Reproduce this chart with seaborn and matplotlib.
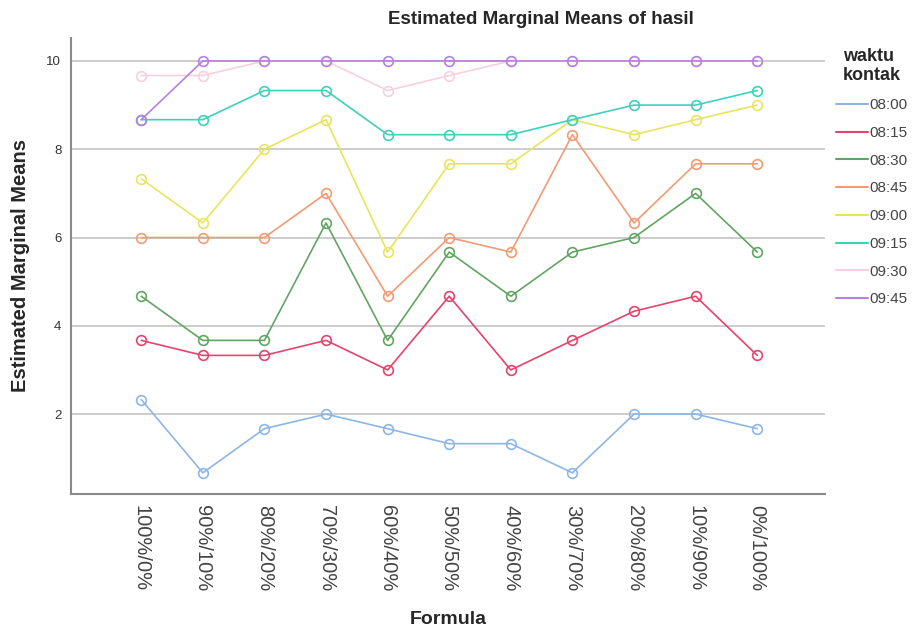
import matplotlib
matplotlib.use("Agg")
import matplotlib.pyplot as plt
from matplotlib.lines import Line2D
import seaborn as sns
import pandas as pd

formula = ["100%/0%", "90%/10%", "80%/20%", "70%/30%", "60%/40%", "50%/50%",
           "40%/60%", "30%/70%", "20%/80%", "10%/90%", "0%/100%"]
waktu = ["08:00", "08:15", "08:30", "08:45", "09:00", "09:15", "09:30", "09:45"]

v0800 = [2.33, 0.67, 1.67, 2.00, 1.67, 1.33, 1.33, 0.67, 2.00, 2.00, 1.67]
v0815 = [3.67, 3.33, 3.33, 3.67, 3.00, 4.67, 3.00, 3.67, 4.33, 4.67, 3.33]
v0830 = [4.67, 3.67, 3.67, 6.33, 3.67, 5.67, 4.67, 5.67, 6.00, 7.00, 5.67]
v0845 = [6.00, 6.00, 6.00, 7.00, 4.67, 6.00, 5.67, 8.33, 6.33, 7.67, 7.67]
v0900 = [7.33, 6.33, 8.00, 8.67, 5.67, 7.67, 7.67, 8.67, 8.33, 8.67, 9.00]
v0915 = [8.67, 8.67, 9.33, 9.33, 8.33, 8.33, 8.33, 8.67, 9.00, 9.00, 9.33]
v0930 = [9.67, 9.67, 10.0, 10.0, 9.33, 9.67, 10.0, 10.0, 10.0, 10.0, 10.0]
v0945 = [8.67, 10.0, 10.0, 10.0, 10.0, 10.0, 10.0, 10.0, 10.0, 10.0, 10.0]
series = [v0800, v0815, v0830, v0845, v0900, v0915, v0930, v0945]

colors = ["#8db6e6", "#e5446c", "#62a462", "#f29b74", "#e8e55c", "#3cd2bb",
          "#f6d0e0", "#b87fe6"]

rows = []
for w, vals in zip(waktu, series):
    for f, v in zip(formula, vals):
        rows.append({"Formula": f, "mean": v, "waktu": w})
df = pd.DataFrame(rows)

sns.set_style("white")
plt.rcParams["font.family"] = ["Liberation Sans", "DejaVu Sans"]

fig = plt.figure(figsize=(9.14, 6.41), dpi=100)
ax = fig.add_axes([71/914, 1 - 494/641, (825 - 71)/914, (494 - 38)/641])

sns.lineplot(data=df, x="Formula", y="mean", hue="waktu", hue_order=waktu,
             palette=colors, marker="o", markersize=7, linewidth=1.2,
             sort=False, ax=ax, legend=False)
for line in ax.lines:
    c = line.get_color()
    line.set_markerfacecolor("none")
    line.set_markeredgecolor(c)
    line.set_markeredgewidth(1.2)

ax.set_xlim(-1.14, 11.1)
ax.set_ylim(0.19, 10.52)
ax.set_yticks([2, 4, 6, 8, 10])
ax.yaxis.grid(True, color="#c8c8c8", linewidth=1.3)
ax.xaxis.grid(False)
ax.set_axisbelow(True)
for s in ["top", "right"]:
    ax.spines[s].set_visible(False)
for s in ["left", "bottom"]:
    ax.spines[s].set_color("#8a8a8a")
    ax.spines[s].set_linewidth(1.5)

ax.tick_params(axis="y", labelsize=9.5, colors="#333333", length=0, pad=7)
ax.tick_params(axis="x", labelsize=14.5, colors="#333333", length=0, pad=8)
for lab in ax.get_xticklabels():
    lab.set_rotation(-90)
    lab.set_va("top")
    lab.set_ha("center")
    lab.set_color("#444444")

ax.set_xlabel("Formula", fontsize=14, fontweight="bold", labelpad=14)
ax.set_ylabel("Estimated Marginal Means", fontsize=14.5, fontweight="bold",
              labelpad=12)

fig.text(541/914, 1 - 20/641, "Estimated Marginal Means of hasil",
         ha="center", va="center", fontsize=13.5, fontweight="bold")

handles = [Line2D([0], [0], color=c, lw=1.5) for c in colors]
leg = fig.legend(handles, waktu, loc="upper left",
                 bbox_to_anchor=(822/914, 1 - 34/641), frameon=False,
                 fontsize=11, handlelength=2.1, handletextpad=0.1,
                 labelspacing=0.9, title="waktu\nkontak",
                 title_fontproperties={"weight": "bold", "size": 13})
for t in leg.get_texts():
    t.set_color("#444444")

fig.savefig("out.png", dpi=100)
